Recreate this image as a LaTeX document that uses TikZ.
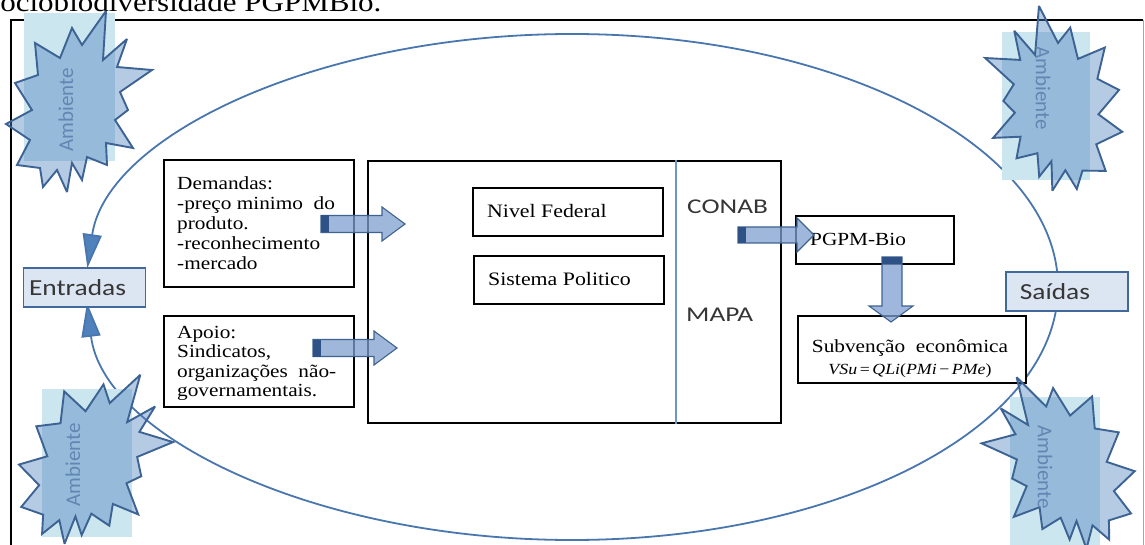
\documentclass[tikz,border=0pt]{standalone}
\usepackage{fontspec}
\setmainfont{Liberation Serif}[FakeStretch=1.15]
\newfontfamily\labelfont{Carlito}[FakeStretch=1.19]
\newfontfamily\orgfont{Carlito}[FakeStretch=1.3]
\newfontfamily\envfont{Carlito}
\usetikzlibrary{arrows.meta,shapes.misc}

\definecolor{ringblue}{HTML}{4A76AE}
\definecolor{tipblue}{HTML}{4F81BD}
\definecolor{tagfill}{HTML}{DCE6F2}
\definecolor{tagedge}{HTML}{41699B}
\definecolor{starfill}{HTML}{4F81BD}
\definecolor{staredge}{HTML}{3C6393}
\definecolor{envbg}{HTML}{CBE6EF}
\definecolor{envtext}{HTML}{6186B3}
\definecolor{arrfill}{HTML}{7F9FD0}
\definecolor{arredge}{HTML}{3F6391}
\definecolor{arrtail}{HTML}{2F5286}
\definecolor{divline}{HTML}{7095C4}
\definecolor{labeltext}{HTML}{363636}

% irregular starburst, centred on the pic origin
\tikzset{burst/.pic={
  \filldraw[fill=starfill, fill opacity=0.42, draw=staredge, line width=1.9pt,
    line join=miter, miter limit=3]
  (28,-91) -- (25,-42) -- (49,-63) -- (39,-35) -- (74,-32) -- (42,-10) -- (50,8)
  -- (37,18) -- (55,46) -- (28,41) -- (29,63) -- (9,55) -- (4,78) -- (-6,61)
  -- (-11,90) -- (-21,68) -- (-35,85) -- (-38,66) -- (-61,63) -- (-48,38)
  -- (-72,22) -- (-46,8) -- (-63,-19) -- (-40,-27) -- (-43,-59) -- (-18,-44)
  -- (-6,-74) -- (4,-57) -- cycle;
}}

\begin{document}
\begin{tikzpicture}[x=1pt,y=-1pt,
  box/.style={draw=black, line width=1.6pt, fill=white, inner sep=0pt, anchor=north west},
  txt/.style={inner sep=0pt, font=\fontsize{18.5}{20}\selectfont, align=left, text=black},
  tag/.style={chamfered rectangle, chamfered rectangle corners={north east,south west},
    chamfered rectangle xsep=7pt, chamfered rectangle ysep=7pt,
    draw=tagedge, line width=1.5pt, fill=tagfill, inner sep=0pt,
    minimum width=122pt, minimum height=39pt},
  tagtext/.style={font=\labelfont\fontsize{23}{23}\selectfont, text=labeltext, inner sep=0pt},
  orgtext/.style={font=\orgfont\fontsize{21}{21}\selectfont, text=labeltext, inner sep=0pt, anchor=west},
  ring/.style={draw=ringblue, line width=1.8pt},
  ringtip/.style={-{Triangle[length=34pt,width=19pt,fill=tipblue]}},
  blockarrow/.style={fill=arrfill, fill opacity=0.75, draw=arredge, line width=1.1pt, line join=miter},
  envtag/.style={font=\envfont\fontsize{21}{21}\selectfont, text=envtext, inner sep=0pt},
]
\useasboundingbox (0,0) rectangle (1145,545);
\clip (0,0) rectangle (1145,545);

% caption line of the page above the figure
\node[anchor=base west, inner sep=0pt, font=\fontsize{27}{27}\selectfont] (caption) at (-12,12)
  {sociobiodiversidade PGPMBio.};

% outer frame
\draw[black, line width=2pt] (11,560) -- (11,20) -- (1143,20);
\draw[black!35, line width=1pt] (1143,20) -- (1143,560);

% system boundary: two halves of the ellipse ending at the input tag
\draw[ring, ringtip] (1058,287) arc[start angle=0, end angle=-175.7, x radius=486, y radius=253];
\draw[ring, ringtip] (1058,287) arc[start angle=0, end angle=176.4, x radius=486, y radius=253];

% input and output tags
\node[tag] (entr) at (84.5,287.5) {};
\node[tagtext] (entrt) at (77.5,288) {Entradas};
\node[tag] (sai) at (1067,291.5) {};
\node[tagtext] (sait) at (1055,292) {Saídas};

% demand and support boxes
\node[box, minimum width=190pt, minimum height=127pt] (dem) at (163,159) {};
\node[txt, anchor=north west] (demt) at (177,176)
  {Demandas:\\-preço minimo\ \ do\\produto.\\-reconhecimento\\-mercado};
\node[box, minimum width=190pt, minimum height=91pt] (apo) at (163,315) {};
\node[txt, anchor=north west, font=\fontsize{18.5}{19.5}\selectfont] (apot) at (177,326)
  {Apoio:\\Sindicatos,\\organizações\ \ não-\\governamentais.};

% political system
\node[box, minimum width=413pt, minimum height=262pt] (big) at (367,160) {};
\draw[divline, line width=1.2pt] (big.north west -| 676,0) -- (big.south west -| 676,0);
\node[box, minimum width=190pt, minimum height=48pt] (nf) at (472,187) {};
\node[txt, anchor=west, font=\fontsize{19}{19}\selectfont] (nft) at (487,211) {Nivel\ Federal};
\node[box, minimum width=190pt, minimum height=48pt] (sp) at (473,255) {};
\node[txt, anchor=west, font=\fontsize{19}{19}\selectfont] (spt) at (488,279) {Sistema\ Politico};
\node[orgtext] (conab) at (687,207) {CONAB};
\node[orgtext] (mapa) at (686,315) {MAPA};

% policy and its outcome
\node[box, minimum width=158pt, minimum height=48pt] (pgpm) at (795,215) {};
\node[txt, anchor=west] (pgpmt) at (810,239) {PGPM-Bio};
\node[box, minimum width=228pt, minimum height=67pt] (sub) at (797,315) {};
\node[txt, font=\fontsize{18.5}{18.5}\selectfont] (subt) at (910,348) {Subvenção\ \ econômica};
\node[txt, font=\fontsize{15.5}{15.5}\selectfont] (subf) at (910,371)
  {\textit{VSu}\,=\,\textit{QLi}(\textit{PMi}\,−\,\textit{PMe})};

% block arrows
\filldraw[blockarrow] (321,215.5) -- (382,215.5) -- (382,207) -- (405,224) -- (382,241) -- (382,232.5) -- (321,232.5) -- cycle;
\fill[arrtail] (321,215.5) rectangle (329,232.5);
\filldraw[blockarrow] (313,339.5) -- (374,339.5) -- (374,331) -- (397,348) -- (374,365) -- (374,356.5) -- (313,356.5) -- cycle;
\fill[arrtail] (313,339.5) rectangle (321,356.5);
\filldraw[blockarrow] (738,227) -- (797,227) -- (797,218) -- (814,235) -- (797,252) -- (797,243) -- (738,243) -- cycle;
\fill[arrtail] (738,227) rectangle (746,243);
\filldraw[blockarrow] (882,257) -- (882,306) -- (869,306) -- (891,322) -- (913,306) -- (902,306) -- (902,257) -- cycle;
\fill[arrtail] (882,257) rectangle (902,264);

% environment markers
\fill[envbg] (24,13) rectangle (115,161);
\fill[envbg] (1002,32) rectangle (1090,180);
\fill[envbg] (42,389) rectangle (132,537);
\fill[envbg] (1010,397) rectangle (1100,560);
\pic at (78,102) {burst};
\pic[xscale=-1, rotate=8] at (1054,100) {burst};
\pic[rotate=-12] at (94,458) {burst};
\pic[xscale=-1, rotate=-10] at (1060,462) {burst};
\node[envtag, rotate=90] (env1) at (66,110) {Ambiente};
\node[envtag, rotate=-90] (env2) at (1043,88) {Ambiente};
\node[envtag, rotate=90] (env3) at (73,465) {Ambiente};
\node[envtag, rotate=-90] (env4) at (1045,467) {Ambiente};
\end{tikzpicture}
\end{document}
